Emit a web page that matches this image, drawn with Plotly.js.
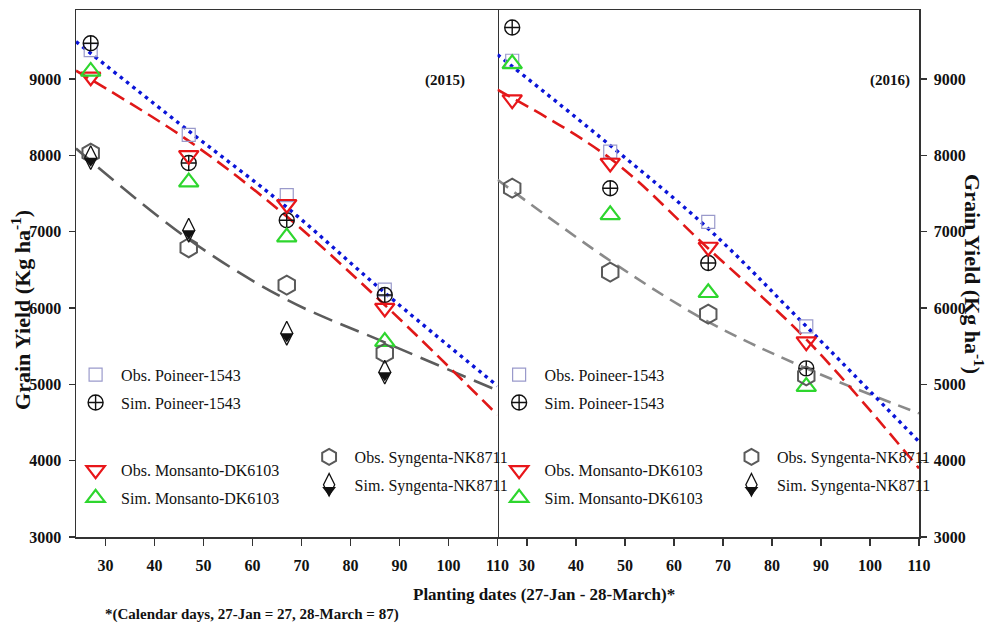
<!DOCTYPE html>
<html>
<head>
<meta charset="utf-8">
<script src="https://cdn.plot.ly/plotly-3.0.1.min.js"></script>
<style>html,body{margin:0;padding:0;background:#fff;}#chart{width:995px;height:630px;}</style>
</head>
<body>
<div id="chart"></div>
<script>
// ---- data ----
const plantingDates = [27, 47, 67, 87];
const xTicks = [30, 40, 50, 60, 70, 80, 90, 100, 110];
const yTicks = [3000, 4000, 5000, 6000, 7000, 8000, 9000];

// 2015
const obsPoineer2015  = [9380, 8270, 7480, 6240];
const simPoineer2015  = [9470, 7900, 7150, 6170];
const obsMonsanto2015 = [9030, 8000, 7360, 6000];
const simMonsanto2015 = [9100, 7650, 6930, 5560];
const obsSyngenta2015 = [8030, 6790, 6300, 5410];
const simSyngenta2015 = [7970, 7020, 5670, 5160];

// 2016
const obsPoineer2016  = [9240, 8050, 7130, 5760];
const simPoineer2016  = [9675, 7570, 6590, 5210];
const obsMonsanto2016 = [8730, 7900, 6800, 5560];
const simMonsanto2016 = [9200, 7220, 6200, 4970];
const obsSyngenta2016 = [7570, 6470, 5920, 5110];
const simSyngenta2016 = [null, null, null, null];   // not visible in the 2016 panel

// fitted trend curves (read at these x positions)
const trendX = [24, 47, 67, 87, 110];
const trendPoineer2015  = [9490, 8320, 7320, 6200, 4980];
const trendMonsanto2015 = [9110, 8190, 7200, 6040, 4600];
const trendSyngenta2015 = [8090, 6900, 6110, 5550, 4920];
const trendPoineer2016  = [9320, 8130, 7040, 5760, 4250];
const trendMonsanto2016 = [8860, 7960, 6780, 5590, 3900];
const trendSyngenta2016 = [7680, 6620, 5820, 5210, 4620];

const names = {
  obsP: 'Obs. Poineer-1543', simP: 'Sim. Poineer-1543',
  obsM: 'Obs. Monsanto-DK6103', simM: 'Sim. Monsanto-DK6103',
  obsS: 'Obs. Syngenta-NK8711', simS: 'Sim. Syngenta-NK8711'
};

const serif = 'Liberation Serif, Times New Roman, serif';

function lineTrace(y, xa, ya, color, dash, width) {
  return {x: trendX, y: y, xaxis: xa, yaxis: ya, mode: 'lines', type: 'scatter',
    line: {color: color, dash: dash, width: width, shape: 'spline'}, showlegend: false, hoverinfo: 'skip'};
}
function markTrace(y, xa, ya, name, marker, legend, group) {
  return {x: plantingDates.slice(0, y.length), y: y, xaxis: xa, yaxis: ya, mode: 'markers', type: 'scatter',
    name: name, marker: marker, legend: legend, legendgroup: group, showlegend: true, cliponaxis: false};
}

const mk = {
  obsP: {symbol: 'square-open', size: 13, color: '#9a9acb', line: {width: 1.2, color: '#9a9acb'}},
  simP: {symbol: 'circle-cross-open', size: 15, color: '#111', line: {width: 1.4, color: '#111'}},
  obsM: {symbol: 'triangle-down-open', size: 17, color: '#e8161a', line: {width: 2.2, color: '#e8161a'}},
  simM: {symbol: 'triangle-up-open', size: 17, color: '#2ed62e', line: {width: 2.2, color: '#2ed62e'}},
  obsS: {symbol: 'hexagon-open', size: 19, color: '#5a5a5a', line: {width: 2, color: '#5a5a5a'}},
  simS: {symbol: 'diamond-tall-open', size: 17, color: '#111', line: {width: 1.3, color: '#111'}},
  simSfill: {symbol: 'triangle-down', size: 12, color: '#111', standoff: 3, line: {width: 0}}
};

function panel(xa, ya, L, d) {
  return [
    lineTrace(d.tS, xa, ya, d.greyColor, d.greyDash, 2.6),
    lineTrace(d.tM, xa, ya, '#e01818', '14px,7px', 2.6),
    lineTrace(d.tP, xa, ya, '#0a14d8', '3.5px,4.5px', 3.4),
    markTrace(d.oP, xa, ya, names.obsP, mk.obsP, L[0], L[0] + 'a'),
    markTrace(d.sP, xa, ya, names.simP, mk.simP, L[0], L[0] + 'b'),
    markTrace(d.oM, xa, ya, names.obsM, mk.obsM, L[1], L[1] + 'a'),
    markTrace(d.sM, xa, ya, names.simM, mk.simM, L[1], L[1] + 'b'),
    markTrace(d.oS, xa, ya, names.obsS, mk.obsS, L[2], L[2] + 'a'),
    markTrace(d.sS, xa, ya, names.simS, mk.simS, L[2], L[2] + 'b'),
    markTrace(d.sS, xa, ya, '', mk.simSfill, L[3], L[3] + 'c')
  ];
}

const data = [].concat(
  panel('x', 'y', ['legend', 'legend2', 'legend3', 'legend7'], {
    tP: trendPoineer2015, tM: trendMonsanto2015, tS: trendSyngenta2015,
    greyColor: '#5c5c5c', greyDash: '20px,9px',
    oP: obsPoineer2015, sP: simPoineer2015, oM: obsMonsanto2015, sM: simMonsanto2015,
    oS: obsSyngenta2015, sS: simSyngenta2015}),
  panel('x2', 'y2', ['legend4', 'legend5', 'legend6', 'legend8'], {
    tP: trendPoineer2016, tM: trendMonsanto2016, tS: trendSyngenta2016,
    greyColor: '#8a8a8a', greyDash: '13px,8px',
    oP: obsPoineer2016, sP: simPoineer2016, oM: obsMonsanto2016, sM: simMonsanto2016,
    oS: obsSyngenta2016, sS: simSyngenta2016})
);

const tickFont = {family: serif, size: 16, color: '#111', weight: 'bold'};
const axLine = {showline: true, linecolor: '#333', linewidth: 1.5, showgrid: false, zeroline: false,
  ticks: 'outside', tickcolor: '#333', tickwidth: 1.3, tickfont: tickFont};

function xaxis(domain, anchor) {
  return Object.assign({}, axLine, {domain: domain, anchor: anchor, range: [24, 110], tickvals: xTicks,
    ticktext: xTicks.map(String), ticklen: 7, mirror: true, ticklabelstandoff: 6});
}
function yaxis(anchor, side, mirror) {
  return Object.assign({}, axLine, {anchor: anchor, side: side, range: [3000, 9905], tickvals: yTicks,
    ticktext: yTicks.map(String), ticklen: 6, mirror: mirror, ticklabelstandoff: 4});
}

const legendBase = {bgcolor: 'rgba(0,0,0,0)', borderwidth: 0, font: {family: serif, size: 16, color: '#111'},
  itemwidth: 41, traceorder: 'grouped', tracegroupgap: 4, xanchor: 'left', yanchor: 'top', itemclick: false};
function lg(x, y) { return Object.assign({}, legendBase, {x: x, y: y}); }

const annFont = (size) => ({family: serif, size: size, weight: 'bold', color: '#111'});
function ann(text, x, y, size, angle) {
  return {text: text, xref: 'paper', yref: 'paper', x: x, y: y, xanchor: 'center', yanchor: 'middle',
    textangle: angle || 0, showarrow: false, font: annFont(size)};
}

const layout = {
  width: 995, height: 630,
  margin: {l: 76, r: 76, t: 10, b: 93},
  paper_bgcolor: '#fff', plot_bgcolor: '#fff',
  font: {family: serif, color: '#111'},
  xaxis: xaxis([0, 0.5], 'y'),
  xaxis2: xaxis([0.5, 1], 'y2'),
  yaxis: yaxis('x', 'left', true),
  yaxis2: yaxis('x2', 'right', false),
  legend: lg(-0.007, 0.34),
  legend2: lg(-0.007, 0.159),
  legend3: lg(0.27, 0.184),
  legend7: lg(0.27, 0.1157),
  legend4: lg(0.4954, 0.34),
  legend5: lg(0.4954, 0.159),
  legend6: lg(0.771, 0.184),
  legend8: lg(0.771, 0.1157),
  annotations: [
    ann('Grain Yield (Kg ha<sup>-1</sup>)', -0.0652, 0.431, 22, -90),
    ann('Grain Yield (Kg ha<sup>-1</sup>)', 1.0652, 0.499, 22, 90),
    ann('Planting dates (27-Jan - 28-March)*', 0.555, -0.110, 17),
    ann('*(Calendar days, 27-Jan = 27, 28-March = 87)', 0.209, -0.148, 15),
    ann('(2015)', 0.4377, 0.867, 15),
    ann('(2016)', 0.9656, 0.867, 15)
  ]
};

Plotly.newPlot('chart', data, layout, {displayModeBar: false, staticPlot: true});
</script>
</body>
</html>
